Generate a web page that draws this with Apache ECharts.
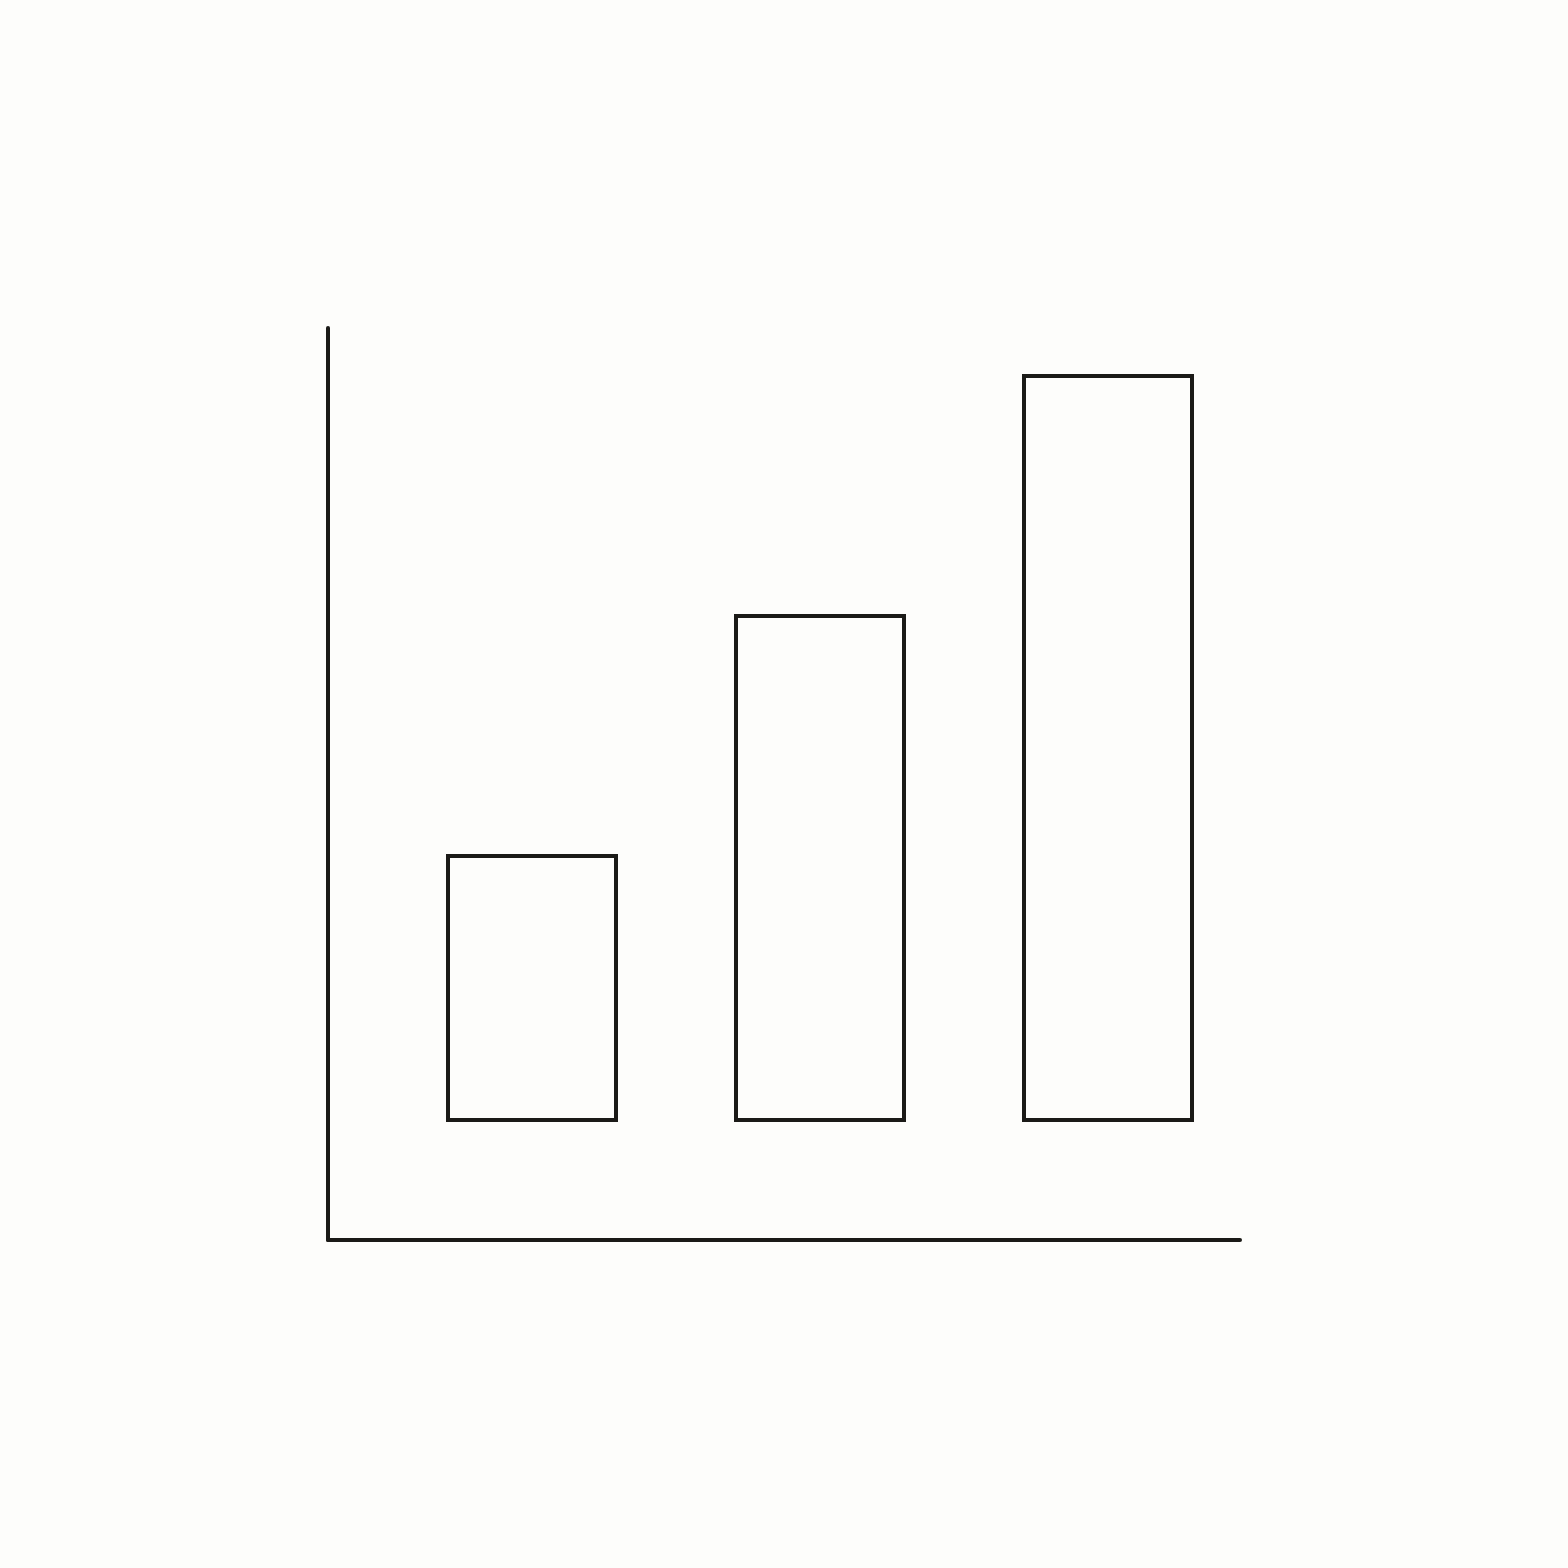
<!DOCTYPE html>
<html>
<head>
<meta charset="utf-8">
<title>bars</title>
<script src="https://cdn.jsdelivr.net/npm/echarts@6/dist/echarts.min.js"></script>
<style>
    html, body { margin: 0; padding: 0; background: #fdfdfb; }
    #chart { width: 1568px; height: 1568px; }
</style>
</head>
<body>
<div id="chart"></div>
<script>
// three bars, no labels in the picture
var categories = ['1', '2', '3'];
// bar heights (units of the hidden scale)
var barHeight = [67, 127, 187];

var ink = '#1b1a17';

// hidden axis helper for the bar grid
function hiddenAxis(extra) {
    var a = {
        gridIndex: 1,
        axisLine: { show: false },
        axisTick: { show: false },
        axisLabel: { show: false },
        splitLine: { show: false }
    };
    for (var k in extra) a[k] = extra[k];
    return a;
}

var option = {
    backgroundColor: '#fdfdfb',
    animation: false,
    grid: [
        // frame with the two axis lines
        { left: 328, top: 328, width: 912, height: 912 },
        // bars float a little above the x axis line
        { left: 388, top: 330, width: 864, height: 792 }
    ],
    xAxis: [
        {
            type: 'value', gridIndex: 0, min: 0, max: 1,
            axisLine: { show: true, lineStyle: { color: ink, width: 4, cap: 'round' } },
            axisTick: { show: false },
            axisLabel: { show: false },
            splitLine: { show: false }
        },
        hiddenAxis({ type: 'category', data: categories, boundaryGap: true })
    ],
    yAxis: [
        {
            type: 'value', gridIndex: 0, min: 0, max: 1,
            axisLine: { show: true, lineStyle: { color: ink, width: 4, cap: 'round' } },
            axisTick: { show: false },
            axisLabel: { show: false },
            splitLine: { show: false }
        },
        hiddenAxis({ type: 'value', min: 0, max: 198 })
    ],
    series: [
        {
            type: 'bar',
            xAxisIndex: 1,
            yAxisIndex: 1,
            silent: true,
            barWidth: 172,
            itemStyle: { color: 'transparent', borderColor: ink, borderWidth: 4 },
            data: barHeight
        }
    ]
};

var myChart = echarts.init(document.getElementById('chart'));
myChart.setOption(option);
</script>
</body>
</html>
